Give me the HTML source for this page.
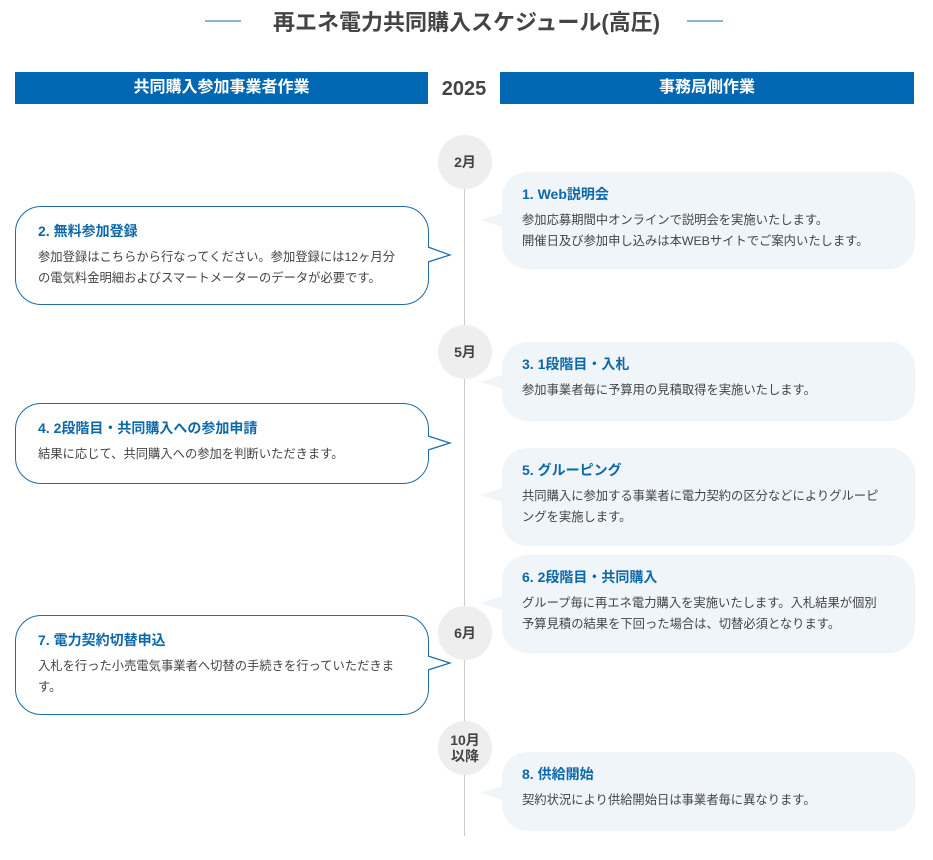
<!DOCTYPE html>
<html><head><meta charset="utf-8"><style>
*{margin:0;padding:0;box-sizing:border-box}
body{width:933px;height:860px;background:#fff;position:relative;overflow:hidden;font-family:"Liberation Sans","Noto Sans CJK JP",sans-serif;color:#444}
.a{position:absolute}
.title{left:0;width:933px;top:6px;text-align:center;font-size:22px;font-weight:bold;color:#444;line-height:34px}
.tl{height:2px;background:#8ab4d4;width:36px;top:20px}
.bar{top:72px;height:32px;background:#0068b3;color:#fff;font-size:16px;font-weight:bold;text-align:center;line-height:32px}
.yr{top:74px;left:428px;width:72px;text-align:center;font-size:20px;font-weight:bold;line-height:30px;color:#444}
.vl{left:464px;top:180px;width:1px;height:656px;background:#ccc}
.c{width:54px;height:54px;border-radius:50%;background:#eee;left:438px;text-align:center;font-size:14px;font-weight:bold;color:#444;display:flex;align-items:center;justify-content:center;line-height:16px}
.L{left:15px;width:414px;border:1px solid #1d6ba8;border-radius:26px;background:#fff;padding:14px 22px}
.R{left:502px;width:413px;background:#f0f5f9;border-radius:26px;padding:12px 20px}
h3{font-size:14px;color:#0d68aa;font-weight:bold;line-height:20px;margin-bottom:6px}
p{font-size:12.3px;line-height:21px;color:#444}
</style></head><body>
<div class="a title">再エネ電力共同購入スケジュール(高圧)</div>
<div class="a tl" style="left:205px"></div>
<div class="a tl" style="left:687px"></div>
<div class="a bar" style="left:15px;width:413px">共同購入参加事業者作業</div>
<div class="a yr">2025</div>
<div class="a bar" style="left:500px;width:414px">事務局側作業</div>
<div class="a vl"></div>
<div class="a c" style="top:135px">2月</div>
<div class="a c" style="top:325px">5月</div>
<div class="a c" style="top:606px">6月</div>
<div class="a c" style="top:721px">10月<br>以降</div>

<svg class="a" style="left:0;top:0" width="933" height="860">
<g fill="#f0f5f9">
<polygon points="503,213 480,220 503,227"/>
<polygon points="503,375 480,382 503,389"/>
<polygon points="503,488 480,495 503,502"/>
<polygon points="503,596 480,603 503,610"/>
<polygon points="503,786 480,793 503,800"/>
</g>
</svg>

<div class="a L" style="top:206px;height:99px"><h3>2. 無料参加登録</h3><p>参加登録はこちらから行なってください。参加登録には12ヶ月分<br>の電気料金明細およびスマートメーターのデータが必要です。</p></div>
<div class="a L" style="top:403px;height:81px"><h3>4. 2段階目・共同購入への参加申請</h3><p>結果に応じて、共同購入への参加を判断いただきます。</p></div>
<div class="a L" style="top:615px;height:100px"><h3>7. 電力契約切替申込</h3><p>入札を行った小売電気事業者へ切替の手続きを行っていただきま<br>す。</p></div>

<svg class="a" style="left:0;top:0" width="933" height="860">
<g fill="#fff" stroke="#1d6ba8" stroke-width="1.2">
<polyline points="428,247 450,255 428,262"/>
<polyline points="428,436 450,443 428,450"/>
<polyline points="428,656 450,663 428,670"/>
</g>
<g stroke="#fff" stroke-width="2">
<line x1="428" y1="249" x2="428" y2="260"/>
<line x1="428" y1="438" x2="428" y2="448"/>
<line x1="428" y1="658" x2="428" y2="668"/>
</g>
</svg>

<div class="a R" style="top:172px;height:97px"><h3>1. Web説明会</h3><p>参加応募期間中オンラインで説明会を実施いたします。<br>開催日及び参加申し込みは本WEBサイトでご案内いたします。</p></div>
<div class="a R" style="top:342px;height:79px"><h3>3. 1段階目・入札</h3><p>参加事業者毎に予算用の見積取得を実施いたします。</p></div>
<div class="a R" style="top:448px;height:98px"><h3>5. グルーピング</h3><p>共同購入に参加する事業者に電力契約の区分などによりグルーピ<br>ングを実施します。</p></div>
<div class="a R" style="top:555px;height:98px"><h3>6. 2段階目・共同購入</h3><p>グループ毎に再エネ電力購入を実施いたします。入札結果が個別<br>予算見積の結果を下回った場合は、切替必須となります。</p></div>
<div class="a R" style="top:752px;height:79px"><h3>8. 供給開始</h3><p>契約状況により供給開始日は事業者毎に異なります。</p></div>
</body></html>
